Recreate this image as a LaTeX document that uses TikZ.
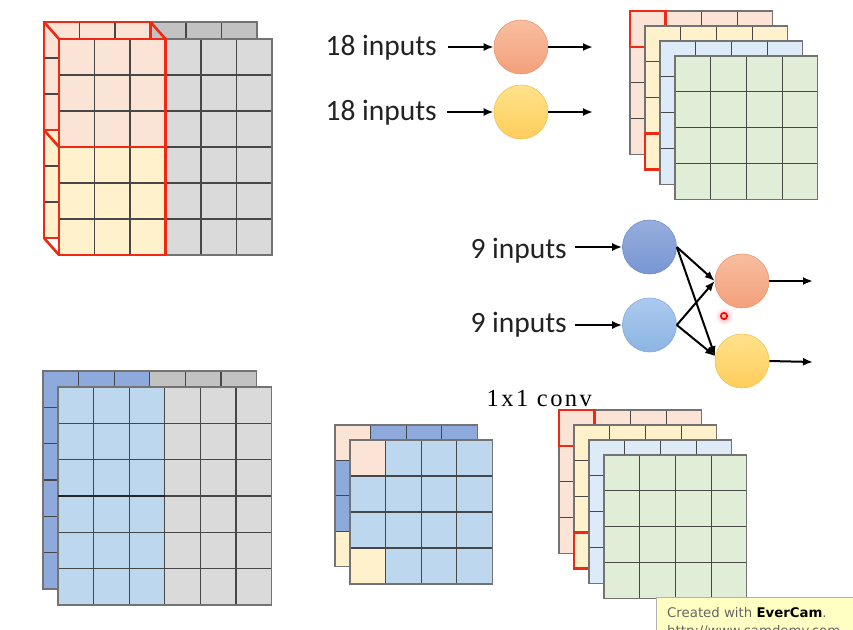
\documentclass[tikz,border=0pt]{standalone}
\usepackage{fontspec}
\setmainfont{Carlito}
\newfontfamily\serifconv[LetterSpace=10]{Liberation Serif}
\newfontfamily\wmfont{DejaVu Sans}
\usetikzlibrary{arrows.meta,calc}

\definecolor{peach}{HTML}{FBE3D5}
\definecolor{lyellow}{HTML}{FFF1CB}
\definecolor{lblue}{HTML}{DDEAF7}
\definecolor{lgreen}{HTML}{E1EED7}
\definecolor{grayback}{HTML}{C2C2C2}
\definecolor{grayfront}{HTML}{DADADA}
\definecolor{blueback}{HTML}{8EA9DB}
\definecolor{bluefront}{HTML}{BDD7EE}
\definecolor{redline}{HTML}{EE2A14}
\definecolor{wmfill}{HTML}{FFFFC4}
\definecolor{txt}{HTML}{222222}

\tikzset{
  gline/.style={draw=black!72, line width=1.1pt},
  gborder/.style={draw=black!55, line width=1.2pt},
  redbox/.style={draw=redline, line width=2.6pt, line join=miter},
  neuron/.style={circle, minimum size=54pt, inner sep=0pt, line width=0.6pt},
  lbl/.style={font=\fontsize{29.5}{32}\selectfont, inner sep=0pt, text=txt},
  arr/.style={-{Latex[length=10pt,width=8pt]}, line width=2pt, black},
}

% #1 x, #2 y, #3 cols, #4 rows, #5 cell w, #6 cell h
\newcommand\gridlinesat[6]{%
  \foreach \k in {0,...,#3} \draw[gline] ({#1+\k*#5},#2) -- ({#1+\k*#5},{#2+#4*#6});
  \foreach \k in {0,...,#4} \draw[gline] (#1,{#2+\k*#6}) -- ({#1+#3*#5},{#2+\k*#6});
  \draw[gborder] (#1,#2) rectangle ({#1+#3*#5},{#2+#4*#6});
}
% #1 x, #2 y, #3 cell w, #4 cell h, #5 col, #6 row, #7 colour
\newcommand\cellat[7]{%
  \fill[#7] ({#1+#5*#3},{#2+#6*#4}) rectangle ++(#3,#4);
}
% stack layer: #1 x, #2 y, #3 colour
\newcommand\stacklayer[3]{%
  \fill[#3] (#1,#2) rectangle ++(142.8,143.4);
  \gridlinesat{#1}{#2}{4}{4}{35.7}{35.85}
}

\begin{document}
\begin{tikzpicture}[x=1pt,y=-1pt]
\useasboundingbox (0,0) rectangle (853,629);
\fill[white] (0,0) rectangle (853,629);
\clip (0,0) rectangle (853,629);

%% ---------- top-left block ----------
% back layer
\fill[peach] (44,22) rectangle (150.5,130);
\fill[lyellow] (44,130) rectangle (150.5,238);
\fill[grayback] (150.5,22) rectangle (257,238);
\gridlinesat{44}{22}{6}{6}{35.5}{36}
\draw[redbox] (44,22) rectangle (150.5,130);
\draw[redbox] (44,130) rectangle (150.5,238);
\draw[redbox] (44,22) -- (59,39);
\draw[redbox] (150.5,22) -- (165.5,39);
\draw[redbox] (44,130) -- (59,147);
\draw[redbox] (44,238) -- (59,255);
% front layer
\fill[peach] (59,39) rectangle (165.5,147);
\fill[lyellow] (59,147) rectangle (165.5,255);
\fill[grayfront] (165.5,39) rectangle (272,255);
\gridlinesat{59}{39}{6}{6}{35.5}{36}
\draw[redbox] (59,39) rectangle (165.5,147);
\draw[redbox] (59,147) rectangle (165.5,255);

%% ---------- top-right stack ----------
\stacklayer{630}{11}{peach}
\draw[redbox] (630,11) rectangle ++(35.7,35.85);
\stacklayer{645}{26}{lyellow}
\draw[redbox] (645,133.55) rectangle ++(35.7,35.85);
\stacklayer{660}{41}{lblue}
\stacklayer{675}{56}{lgreen}

%% ---------- bottom-left block ----------
\fill[blueback] (43,371) rectangle (149.8,589);
\fill[grayback] (149.8,371) rectangle (256.6,589);
\gridlinesat{43}{371}{6}{6}{35.6}{36.33}
\fill[bluefront] (58,387) rectangle (164.8,605);
\fill[grayfront] (164.8,387) rectangle (271.6,605);
\gridlinesat{58}{387}{6}{6}{35.6}{36.33}
\draw[draw=black!85, line width=2pt] (58,496) -- (164.8,496);

%% ---------- bottom-middle block ----------
\fill[blueback] (335,425) rectangle ++(142.4,141.6);
\cellat{335}{425}{35.6}{35.4}{0}{0}{peach}
\cellat{335}{425}{35.6}{35.4}{0}{3}{lyellow}
\gridlinesat{335}{425}{4}{4}{35.6}{35.4}
\fill[bluefront] (350,440) rectangle ++(142.4,144);
\cellat{350}{440}{35.6}{36}{0}{0}{peach}
\cellat{350}{440}{35.6}{36}{0}{3}{lyellow}
\gridlinesat{350}{440}{4}{4}{35.6}{36}

%% ---------- bottom-right stack ----------
\stacklayer{559}{410}{peach}
\draw[redbox] (559,410) rectangle ++(35.7,35.85);
\stacklayer{574}{425}{lyellow}
\draw[redbox] (574,532.55) rectangle ++(35.7,35.85);
\stacklayer{589}{440}{lblue}
\stacklayer{604}{455}{lgreen}

%% ---------- 18 inputs neurons ----------
\node[neuron, top color={rgb,255:red,248;green,190;blue,160}, bottom color={rgb,255:red,242;green,160;blue,122}, draw={rgb,255:red,232;green,152;blue,118}] (o1) at (521,47) {};
\node[neuron, top color={rgb,255:red,255;green,226;blue,140}, bottom color={rgb,255:red,255;green,205;blue,90}, draw={rgb,255:red,240;green,195;blue,85}] (o2) at (521,112) {};
\node[lbl, anchor=base east] (t1) at (437,55) {18 inputs};
\node[lbl, anchor=base east] (t2) at (437,120) {18 inputs};
\coordinate (o1out) at (593,47);
\coordinate (o2out) at (593,112);
\draw[arr] ($(t1.east|-o1.west)+(11,0)$) -- (o1.west);
\draw[arr] ($(t2.east|-o2.west)+(10,0)$) -- (o2.west);
\draw[arr] (o1.east) -- (o1out);
\draw[arr] (o2.east) -- (o2out);

%% ---------- 9 inputs network ----------
\node[neuron, top color={rgb,255:red,150;green,174;blue,222}, bottom color={rgb,255:red,120;green,150;blue,210}, draw={rgb,255:red,112;green,142;blue,200}] (b1) at (649.5,247) {};
\node[neuron, top color={rgb,255:red,172;green,202;blue,238}, bottom color={rgb,255:red,140;green,180;blue,228}, draw={rgb,255:red,130;green,170;blue,220}] (b2) at (649.5,325) {};
\node[neuron, top color={rgb,255:red,248;green,190;blue,160}, bottom color={rgb,255:red,242;green,160;blue,122}, draw={rgb,255:red,232;green,152;blue,118}] (r2) at (742,281) {};
\node[neuron, top color={rgb,255:red,255;green,226;blue,140}, bottom color={rgb,255:red,255;green,205;blue,90}, draw={rgb,255:red,240;green,195;blue,85}] (y2) at (742,361) {};
\node[lbl, anchor=base east] (t3) at (567,258) {9 inputs};
\node[lbl, anchor=base east] (t4) at (567,332) {9 inputs};
\coordinate (r2out) at (813,281);
\coordinate (y2out) at (813,362);
\draw[arr] ($(t3.east|-b1.west)+(8,0)$) -- (b1.west);
\draw[arr] ($(t4.east|-b2.west)+(8,0)$) -- (b2.west);
\draw[arr] (b1.east) -- (r2.west);
\draw[arr] (b1.east) -- (y2.170);
\draw[arr] (b2.east) -- (r2.west);
\draw[arr] (b2.east) -- (y2.170);
\draw[arr] (r2.east) -- (r2out);
\draw[arr] (y2.east) -- (y2out);

% cursor mark
\shade[inner color=red!35, outer color=white] (724,316) circle (9);
\draw[red, line width=1.6pt] (724,316) circle (3.2);

%% ---------- label ----------
\node[anchor=base west, inner sep=0pt, font=\serifconv\fontsize{24.5}{27}\selectfont] (conv) at (486.5,406) {1x1 conv};

%% ---------- watermark ----------
\draw[fill=wmfill, draw=black!30, line width=0.6pt] (656,597) rectangle (880,650);
\node[anchor=base west, inner sep=0pt, font=\wmfont\fontsize{13.3}{15}\selectfont] (wm1) at (667,617) {\textcolor{black!60}{Created with }\textbf{EverCam}\textcolor{black!60}{.}};
\node[anchor=base west, inner sep=0pt, font=\wmfont\fontsize{13.3}{15}\selectfont, text=black!60] (wm2) at (667,635) {http://www.camdemy.com};
\end{tikzpicture}
\end{document}
